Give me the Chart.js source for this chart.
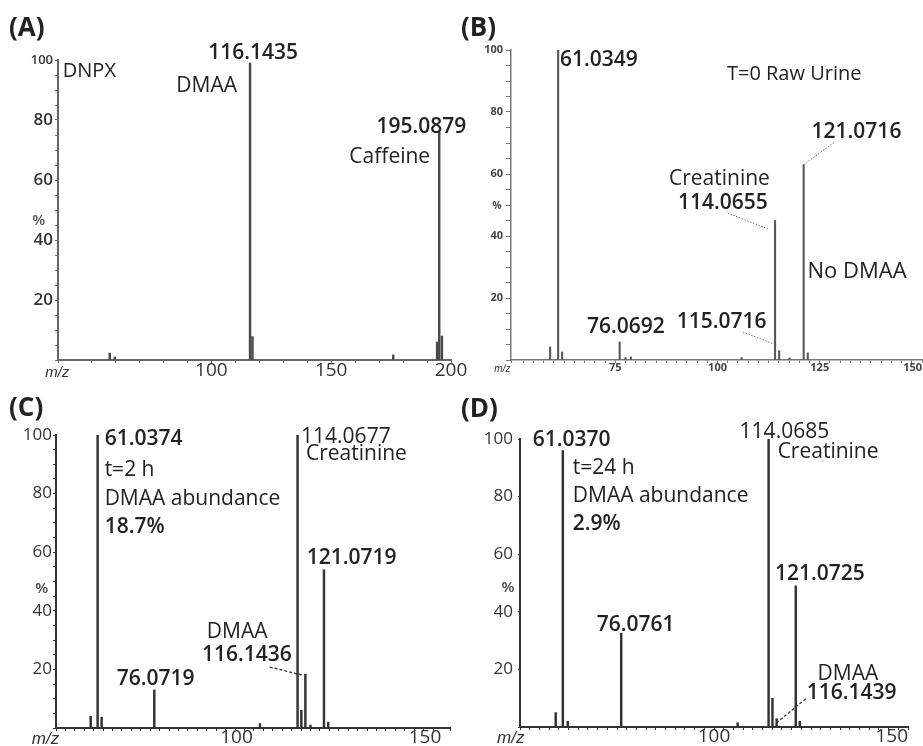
<!DOCTYPE html>
<html><head><meta charset="utf-8">
<script src="https://cdn.jsdelivr.net/npm/chart.js@4"></script>
<style>
html,body{margin:0;padding:0;background:#fff}
body{width:923px;height:746px;position:relative;overflow:hidden}
canvas{position:absolute}
.lbl{position:absolute;font:700 26px 'Open Sans',sans-serif;color:#222;line-height:26px}
</style></head><body>
<canvas id="cA" width="500" height="385" style="left:0;top:0"></canvas>
<canvas id="cB" width="463" height="385" style="left:460px;top:0"></canvas>
<canvas id="cC" width="460" height="361" style="left:0;top:385px"></canvas>
<canvas id="cD" width="463" height="361" style="left:460px;top:385px"></canvas>
<div class="lbl" style="left:9px;top:13px">(A)</div>
<div class="lbl" style="left:461px;top:13px">(B)</div>
<div class="lbl" style="left:9px;top:393px">(C)</div>
<div class="lbl" style="left:461px;top:394px">(D)</div>
<script>
// ---- data (m/z, relative abundance %) ----
const mzA  = [57.6, 59.7, 116.14, 117.15, 175.9, 194.2, 195.09, 196.2];
const intA = [2.3, 1.0, 99, 7.8, 1.7, 6, 76, 8];

const mzB  = [59.07, 61.03, 62.0, 76.07, 77.5, 78.8, 105.9, 114.07, 115.07, 117.6, 121.07, 122.07];
const intB = [4.2, 100, 2.6, 5.8, 0.8, 1.0, 0.8, 45, 3.0, 0.7, 63, 2.3];

const mzC  = [59.2, 61.04, 62.1, 76.07, 104.1, 114.07, 115.07, 116.14, 117.5, 121.07, 122.2];
const intC = [4, 100, 3.7, 13, 1.5, 100, 6, 18.4, 1, 54, 2];

const mzD  = [59.2, 61.04, 62.3, 76.08, 106.1, 114.07, 115.07, 116.14, 121.07, 122.1];
const intD = [5, 96, 2, 32.6, 1.5, 100, 10, 2.9, 49, 2];

const yLabels   = [20, 40, 60, 80, 100];
const xLabelsA  = [100, 150, 200];
const xLabelsB  = [75, 100, 125, 150];
const xLabelsCD = [100, 150];

const FONT = "'Open Sans', sans-serif";

// ---- annotations (positions in data coordinates) ----
const textsA = [
  {t:'116.1435', x:117.4, y:102.7, a:'center', s:21, w:600},
  {t:'DMAA', x:110.7, y:91.7, a:'right', s:21, w:400},
  {t:'DNPX', x:38.0, y:96.7, a:'left', s:20, w:400},
  {t:'195.0879', x:187.6, y:78.3, a:'center', s:21, w:600},
  {t:'Caffeine', x:191.3, y:68.3, a:'right', s:21, w:400},
  {t:'%', x:28, y:46.7, a:'center', s:15, w:600, c:'#555'},
  {t:'m/z', x:35.7, y:-4, a:'center', s:15, it:true, c:'#333'}
];
const linesA = [];

const textsB = [
  {t:'61.0349', x:61.5, y:97.4, a:'left', s:21, w:600},
  {t:'T=0 Raw Urine', x:102.3, y:92.6, a:'left', s:20, w:400},
  {t:'121.0716', x:123.0, y:74.2, a:'left', s:21, w:600},
  {t:'Creatinine', x:112.8, y:59.0, a:'right', s:21, w:400},
  {t:'114.0655', x:112.3, y:51.0, a:'right', s:21, w:600},
  {t:'No DMAA', x:122.0, y:29.0, a:'left', s:22, w:400},
  {t:'76.0692', x:68.1, y:11.3, a:'left', s:21, w:600},
  {t:'115.0716', x:112.0, y:12.9, a:'right', s:21, w:600},
  {t:'%', x:46.1, y:50, a:'center', s:10, w:700, c:'#444'},
  {t:'m/z', x:47.4, y:-2.6, a:'center', s:10, it:true, c:'#333'}
];
const linesB = [
  {x1:121.07, y1:63, x2:128.6, y2:70.3},
  {x1:102.5, y1:47.4, x2:112.3, y2:42.3},
  {x1:106.2, y1:9.0, x2:114.5, y2:4.8}
];

const textsC = [
  {t:'61.0374', x:62.9, y:99.3, a:'left', s:21, w:600},
  {t:'t=2 h', x:62.9, y:88.7, a:'left', s:21, w:500},
  {t:'DMAA abundance', x:62.9, y:78.8, a:'left', s:21, w:500},
  {t:'18.7%', x:62.9, y:69.3, a:'left', s:21, w:600},
  {t:'114.0677', x:115.0, y:100, a:'left', s:21, w:500},
  {t:'Creatinine', x:116.3, y:93.9, a:'left', s:21, w:400},
  {t:'121.0719', x:116.5, y:58.7, a:'left', s:21, w:600},
  {t:'DMAA', x:90.0, y:33.4, a:'left', s:21, w:400},
  {t:'116.1436', x:88.7, y:25.3, a:'left', s:21, w:600},
  {t:'76.0719', x:66.1, y:17.1, a:'left', s:21, w:600},
  {t:'%', x:46.2, y:47.8, a:'center', s:15, w:600, c:'#444'},
  {t:'m/z', x:47.2, y:-3.4, a:'center', s:17, it:true, c:'#333'}
];
const linesC = [ {x1:106.7, y1:20.8, x2:115.2, y2:18.1, dash:true} ];

const textsD = [
  {t:'61.0370', x:53.3, y:100.3, a:'left', s:21, w:600},
  {t:'t=24 h', x:63.6, y:90.3, a:'left', s:21, w:500},
  {t:'DMAA abundance', x:63.6, y:80.9, a:'left', s:21, w:500},
  {t:'2.9%', x:63.6, y:71.2, a:'left', s:21, w:600},
  {t:'114.0685', x:106.6, y:103.1, a:'left', s:21, w:500},
  {t:'Creatinine', x:116.4, y:96.2, a:'left', s:21, w:400},
  {t:'121.0725', x:115.7, y:53.5, a:'left', s:21, w:600},
  {t:'76.0761', x:69.8, y:36.1, a:'left', s:21, w:600},
  {t:'DMAA', x:126.7, y:19.1, a:'left', s:21, w:400},
  {t:'116.1439', x:123.9, y:12.2, a:'left', s:21, w:600},
  {t:'%', x:46.9, y:48.6, a:'center', s:15, w:600, c:'#444'},
  {t:'m/z', x:47.6, y:-3.5, a:'center', s:17, it:true, c:'#333'}
];
const linesD = [ {x1:116.1, y1:1.4, x2:123.9, y2:10.1, dash:true} ];

// ---- plugin drawing annotations through the chart scales ----
const annotPlugin = {
  id: 'annot',
  afterDraw(chart, args, opts) {
    const {ctx, scales:{x, y}} = chart;
    ctx.save();
    (opts.lines || []).forEach(l => {
      ctx.beginPath();
      ctx.setLineDash(l.dash ? [3, 2] : [1.5, 1.5]);
      ctx.strokeStyle = l.dash ? '#333' : '#777';
      ctx.lineWidth = l.dash ? 1.3 : 1;
      ctx.moveTo(x.getPixelForValue(l.x1), y.getPixelForValue(l.y1));
      ctx.lineTo(x.getPixelForValue(l.x2), y.getPixelForValue(l.y2));
      ctx.stroke();
    });
    ctx.setLineDash([]);
    (opts.texts || []).forEach(t => {
      ctx.font = t.it ? `italic ${t.s}px 'Liberation Sans', sans-serif`
                      : `${t.w || 400} ${t.s}px ${FONT}`;
      ctx.fillStyle = t.c || '#222';
      ctx.textAlign = t.a || 'left';
      ctx.textBaseline = 'alphabetic';
      ctx.fillText(t.t, x.getPixelForValue(t.x), y.getPixelForValue(t.y) + t.s * 0.36);
    });
    ctx.restore();
  }
};

function makeChart(id, mz, inten, c) {
  return new Chart(document.getElementById(id), {
    type: 'bar',
    data: { datasets: [{
      data: mz.map((m, i) => ({x: m, y: inten[i]})),
      backgroundColor: c.barColor, borderWidth: 0, barThickness: c.barW, grouped: false
    }]},
    options: {
      responsive: false, animation: false, devicePixelRatio: 1,
      layout: { padding: { left: 0, right: c.padR, top: c.padT, bottom: 0 } },
      plugins: { legend: {display: false}, tooltip: {enabled: false},
                 annot: { texts: c.texts, lines: c.lines } },
      scales: {
        x: {
          type: 'linear', min: c.xMin, max: c.xMax, offset: false,
          grid: { display: true, drawOnChartArea: false, drawTicks: true, tickLength: 3,
                  color: c.axisColor, offset: false, lineWidth: 1 },
          border: { display: true, color: c.axisColor, width: c.axisW },
          ticks: { stepSize: c.xStep, autoSkip: false, maxRotation: 0, padding: c.xPad,
                   align: c.xAlign || 'center', labelOffset: c.xLabelOffset || 0,
                   color: c.tickColor,
                   font: { family: FONT, size: c.xFont, weight: c.xWeight },
                   callback: v => c.xLabels.includes(v) ? String(v) : '' },
          afterFit: s => { s.height = c.xH; s.paddingLeft = 0; s.paddingRight = 0; }
        },
        y: {
          type: 'linear', min: 0, max: 100,
          grid: { display: true, drawOnChartArea: false, drawTicks: true, tickLength: c.yTickLen,
                  color: c.axisColor, lineWidth: 1 },
          border: { display: true, color: c.axisColor, width: c.axisW },
          ticks: { stepSize: c.yStep, autoSkip: false, padding: c.yPad, color: c.tickColor,
                   font: ctx => ({ family: FONT, weight: c.yWeight,
                                   size: (ctx.tick && ctx.tick.value === 100 && c.y100) ? c.y100 : c.yFont }),
                   callback: v => yLabels.includes(v) ? String(v) : '' },
          afterFit: s => { s.width = c.yW; s.paddingTop = 0; s.paddingBottom = 0; }
        }
      }
    },
    plugins: [annotPlugin]
  });
}

makeChart('cA', mzA, intA, {
  barColor:'#4a4a4a', barW:1.8, padR:49, padT:60, xMin:36, xMax:200, xStep:10, xPad:-4,
  xFont:19, xWeight:400, xLabels:xLabelsA, xH:25, axisColor:'#666', axisW:2, tickColor:'#333',
  yTickLen:3, yStep:5, yPad:2, yWeight:600, yFont:17, y100:13, yW:58,
  texts:textsA, lines:linesA
});
makeChart('cB', mzB, intB, {
  barColor:'#555', barW:1.4, padR:1, padT:50, xMin:49.5, xMax:150, xStep:2.5, xPad:-2,
  xAlign:'inner',
  xFont:11, xWeight:700, xLabels:xLabelsB, xH:25, axisColor:'#777', axisW:1.5, tickColor:'#444',
  yTickLen:5, yStep:5, yPad:3, yWeight:700, yFont:11, y100:0, yW:51,
  texts:textsB, lines:linesB
});
makeChart('cC', mzC, intC, {
  barColor:'#333', barW:1.8, padR:10, padT:50, xMin:50, xMax:154.5, xStep:2.5, xPad:-5,
  xLabelOffset:-8,
  xFont:19, xWeight:400, xLabels:xLabelsCD, xH:18, axisColor:'#333', axisW:2, tickColor:'#333',
  yTickLen:3, yStep:5, yPad:1, yWeight:400, yFont:17, y100:0, yW:56,
  texts:textsC, lines:linesC
});
makeChart('cD', mzD, intD, {
  barColor:'#333', barW:1.8, padR:15, padT:54, xMin:50, xMax:150, xStep:2.5, xPad:-5,
  xAlign:'inner',
  xFont:19, xWeight:400, xLabels:xLabelsCD, xH:19, axisColor:'#333', axisW:2, tickColor:'#333',
  yTickLen:2, yStep:20, yPad:5, yWeight:400, yFont:17, y100:0, yW:60,
  texts:textsD, lines:linesD
});
</script>
</body></html>
